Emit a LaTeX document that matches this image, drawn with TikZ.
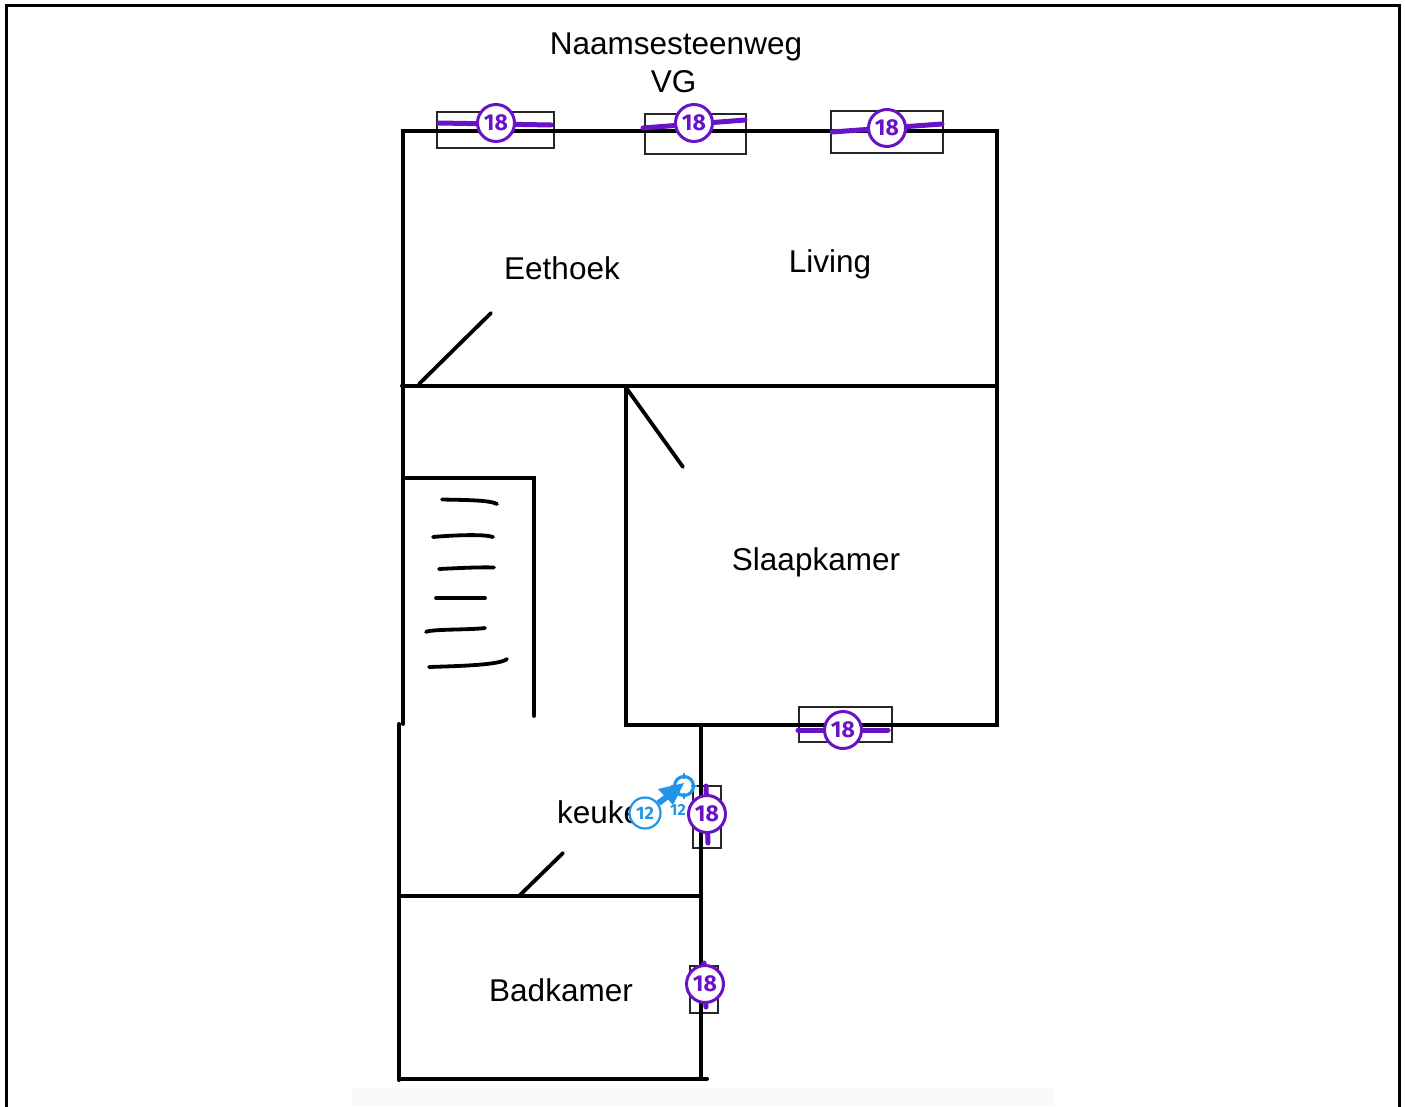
\documentclass[tikz,border=0pt]{standalone}
\usepackage{fontspec}
\setmainfont{Liberation Sans}
\newfontfamily\badgefont{Fira Sans}
\definecolor{vio}{HTML}{6A12C6}
\definecolor{blu}{HTML}{2196E8}
\tikzset{
 wall/.style={line width=4pt,black,line cap=round},
 thin wall/.style={line width=3.8pt,black,line cap=round},
 frame box/.style={line width=1.8pt,draw=black!85,fill=none},
 run/.style={line width=5pt,vio,line cap=round},
 label/.style={font=\fontsize{31.5}{31.5}\selectfont,text=black,inner sep=0pt},
 badge/.style={circle,draw=vio,line width=3pt,fill=white,minimum size=37pt,inner sep=0pt,text=vio,font=\badgefont\bfseries\fontsize{23}{23}\selectfont},
 bluebadge/.style={circle,draw=blu,line width=2.2pt,fill=white,minimum size=31pt,inner sep=0pt,text=blu,font=\badgefont\bfseries\fontsize{18}{18}\selectfont},
}
\begin{document}
\begin{tikzpicture}[x=1pt,y=-1pt]
\useasboundingbox (0,0) rectangle (1405,1106);
\fill[white] (0,0) rectangle (1405,1106);
\fill[black!2] (352,1088) rectangle (1054,1106);
\draw[line width=3pt,black] (6.5,1110) -- (6.5,5.5) -- (1399.5,5.5) -- (1399.5,1110);
% equipment frames
\draw[frame box] (437,112) rectangle (554,148);
\draw[frame box] (645,114) rectangle (746,154);
\draw[frame box] (831,111) rectangle (943,153);
\draw[frame box] (799,707) rectangle (892,742);
\draw[frame box] (693,786) rectangle (721,848);
\draw[frame box] (690,966) rectangle (718,1013);
% walls
\draw[wall] (403,385) -- (403,131) -- (997,131) -- (997,724.5) -- (626,724.5) -- (626,386);
\draw[wall] (402,385.5) -- (997,385.5);
\draw[wall] (403,385) -- (403,724);
\draw[thin wall] (406,478) -- (534,478) -- (534,716);
\draw[wall] (399,724) -- (399,1080);
\draw[wall] (701,725) -- (701,1078);
\draw[wall] (399,896) -- (701,896);
\draw[wall] (399,1078.5) -- (707,1078.5);
% doors
\draw[thin wall] (419,384) -- (491,313);
\draw[thin wall] (627,389) -- (683,467);
\draw[thin wall] (520,895) -- (563,853);
% stairs
\draw[thin wall] (442,499.5) .. controls (465,500) and (490,500) .. (497,504);
\draw[thin wall] (433,537) .. controls (455,535) and (485,534) .. (493,537);
\draw[thin wall] (439,569) .. controls (460,568) and (480,567) .. (494,567.5);
\draw[thin wall] (436,598) -- (485,598);
\draw[thin wall] (426,632) .. controls (430,629) and (470,630) .. (485,628);
\draw[thin wall] (429,667) .. controls (460,666) and (500,665) .. (507,659);
% labels
\node[label] (t1) at (676,46.5) {Naamsesteenweg};
\node[label] (t2) at (673.5,82) {VG};
\node[label] (t3) at (562,268) {Eethoek};
\node[label] (t4) at (830,264) {Living};
\node[label] (t5) at (816,562) {Slaapkamer};
\node[label,anchor=west] (t6) at (557,812.5) {keuken};
\node[label] (t7) at (561,990) {Badkamer};
% blue marker
\coordinate (tg) at (684,786);
\draw[blu,line width=3.2pt] (tg) circle (9.5pt);
\draw[blu,line width=2.5pt] (684,773) -- (684,779) (684,793) -- (684,799) (671,786) -- (677,786) (691,786) -- (697,786);
\node[text=blu,inner sep=0pt,font=\badgefont\bfseries\fontsize{16}{16}\selectfont] (bl) at (678,810) {12};
\node[bluebadge] (bb) at (645,813) {12};
\draw[blu,line width=6pt] (bb) -- (668,796);
\fill[blu] (658,789) -- (684,783) -- (673,805) -- cycle;
% violet runs and badges
\coordinate (r1a) at (439,123); \coordinate (r1b) at (551,125);
\coordinate (r2a) at (643,128); \coordinate (r2b) at (745,120);
\coordinate (r3a) at (832,132); \coordinate (r3b) at (942,124);
\coordinate (r4a) at (798,730); \coordinate (r4b) at (888,730);
\coordinate (r5a) at (706,786); \coordinate (r5b) at (708,843);
\coordinate (r6a) at (704,963); \coordinate (r6b) at (706,1007);
\draw[run] (r1a) -- (r1b);
\draw[run] (r2a) -- (r2b);
\draw[run] (r3a) -- (r3b);
\draw[run] (r4a) -- (r4b);
\draw[run] (r5a) -- (r5b);
\draw[run] (r6a) -- (r6b);
\node[badge] (b1) at (496,123) {18};
\node[badge] (b2) at (694,123) {18};
\node[badge] (b3) at (887,128) {18};
\node[badge] (b4) at (843,730) {18};
\node[badge] (b5) at (707,814) {18};
\node[badge] (b6) at (705,984) {18};
\end{tikzpicture}
\end{document}
